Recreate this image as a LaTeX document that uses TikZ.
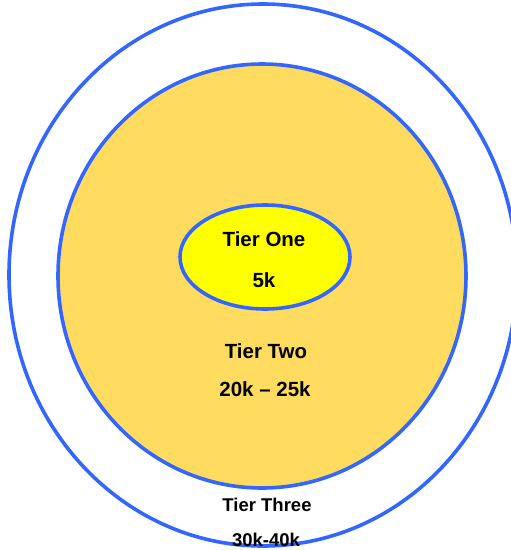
\documentclass[tikz,border=0pt]{standalone}
\usepackage{fontspec}
\setmainfont{Liberation Sans}
\usetikzlibrary{shapes.geometric}
\definecolor{ringblue}{RGB}{51,102,255}
\definecolor{tiertwofill}{RGB}{255,220,95}
\definecolor{tieronefill}{RGB}{255,255,0}
\tikzset{
  ring/.style={ellipse, draw=ringblue, line width=3.6pt, inner sep=0pt},
  lbl/.style={anchor=base, inner sep=0pt, font=\bfseries\fontsize{20.5}{24}\selectfont},
  lblsmall/.style={anchor=base, inner sep=0pt, font=\bfseries\fontsize{18.5}{22}\selectfont}
}
\begin{document}
\begin{tikzpicture}[x=1pt,y=-1pt]
\useasboundingbox (0,0) rectangle (511,550);
\clip (0,0) rectangle (511,550);
\fill[white] (0,0) rectangle (511,550);
\node[ring, minimum width=508pt, minimum height=542pt] (outer) at (263,275) {};
\node[ring, fill=tiertwofill, minimum width=408pt, minimum height=424pt] (middle) at (262,276) {};
\node[ring, fill=tieronefill, minimum width=170pt, minimum height=104pt] (inner) at (265,257) {};
\node[lbl] (t1a) at (264,246) {Tier One};
\node[lbl] (t1b) at (264,287) {5k};
\node[lbl] (t2a) at (266,358) {Tier Two};
\node[lbl] (t2b) at (265,396) {20k – 25k};
\node[lblsmall] (t3a) at (267,511) {Tier Three};
\node[lblsmall] (t3b) at (266,546) {30k-40k};
\end{tikzpicture}
\end{document}
